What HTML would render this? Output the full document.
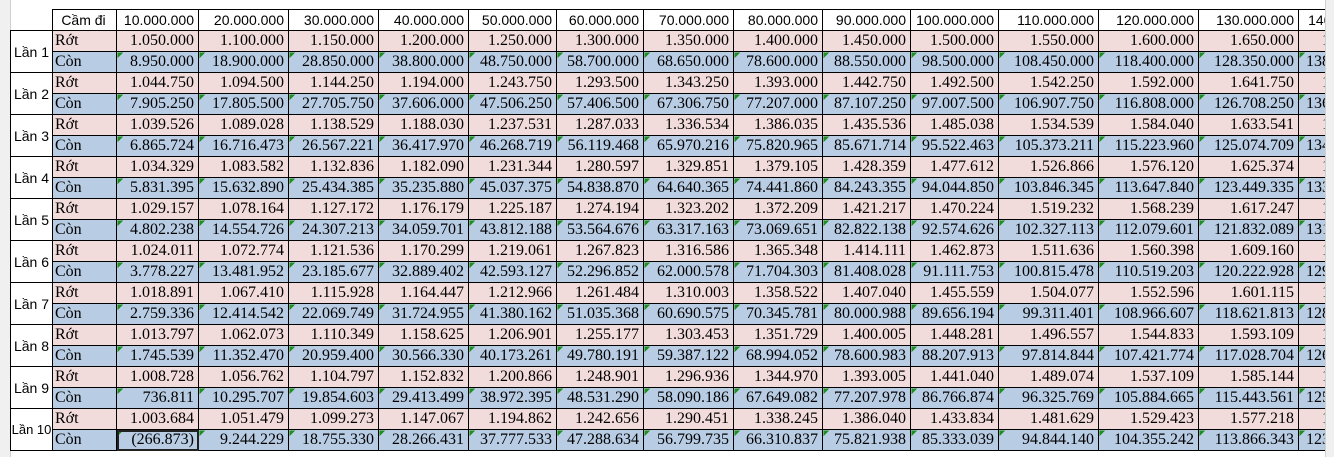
<!DOCTYPE html>
<html><head><meta charset="utf-8"><style>
body{margin:0;width:1334px;height:457px;background:#fff;overflow:hidden;position:relative;font-family:"Liberation Serif",serif}
#rh{position:absolute;left:0;top:0;width:10px;height:457px;background:#f0f0f0;border-right:1px solid #d0d0d0}
#sb{position:absolute;left:1325px;top:0;width:9px;height:457px;background:#f0f0f0;border-left:1px solid #d0d0d0}
#wrap{position:absolute;left:10px;top:9px;width:1315px;height:448px;overflow:hidden}
table{border-collapse:collapse;table-layout:fixed;width:1380px}
td{height:20px;padding:0 4px 0 2px;border:1px solid #000;font-size:16px;line-height:20px;text-align:right;white-space:nowrap;overflow:hidden}
tr.h td{font-family:"Liberation Sans",sans-serif;font-size:14px;background:#fff}
td.l{font-family:"Liberation Sans",sans-serif;font-size:14px;text-align:center;background:#fff;padding:0}
tr.r td{background:#f2dcdb}
tr.c td{background:#b8cce4 linear-gradient(135deg,#1f8f1f 4px,transparent 4px)}
tr.r td.k,tr.c td.k{text-align:left;background:#f2dcdb}
tr.c td.k{background:#b8cce4}
tr.c td.l,tr.r td.l{background:#fff}
</style></head><body>
<div id="rh"></div><div id="sb"></div>
<div id="wrap"><table>
<colgroup><col style="width:42px"><col style="width:64px"><col style="width:82px"><col style="width:90px"><col style="width:90px"><col style="width:90px"><col style="width:88px"><col style="width:87px"><col style="width:90px"><col style="width:89px"><col style="width:88px"><col style="width:88px"><col style="width:100px"><col style="width:100px"><col style="width:100px"><col style="width:92px"></colgroup>
<tr class="h"><td style="border-left:none;border-top:none"></td><td style="text-align:center">Cầm đi</td><td>10.000.000</td><td>20.000.000</td><td>30.000.000</td><td>40.000.000</td><td>50.000.000</td><td>60.000.000</td><td>70.000.000</td><td>80.000.000</td><td>90.000.000</td><td>100.000.000</td><td>110.000.000</td><td>120.000.000</td><td>130.000.000</td><td>140.000.000</td></tr>
<tr class="r"><td class="l" rowspan="2">Lần 1</td><td class="k">Rớt</td><td>1.050.000</td><td>1.100.000</td><td>1.150.000</td><td>1.200.000</td><td>1.250.000</td><td>1.300.000</td><td>1.350.000</td><td>1.400.000</td><td>1.450.000</td><td>1.500.000</td><td>1.550.000</td><td>1.600.000</td><td>1.650.000</td><td>1.700.000</td></tr>
<tr class="c"><td class="k">Còn</td><td>8.950.000</td><td>18.900.000</td><td>28.850.000</td><td>38.800.000</td><td>48.750.000</td><td>58.700.000</td><td>68.650.000</td><td>78.600.000</td><td>88.550.000</td><td>98.500.000</td><td>108.450.000</td><td>118.400.000</td><td>128.350.000</td><td>138.300.000</td></tr>
<tr class="r"><td class="l" rowspan="2">Lần 2</td><td class="k">Rớt</td><td>1.044.750</td><td>1.094.500</td><td>1.144.250</td><td>1.194.000</td><td>1.243.750</td><td>1.293.500</td><td>1.343.250</td><td>1.393.000</td><td>1.442.750</td><td>1.492.500</td><td>1.542.250</td><td>1.592.000</td><td>1.641.750</td><td>1.691.500</td></tr>
<tr class="c"><td class="k">Còn</td><td>7.905.250</td><td>17.805.500</td><td>27.705.750</td><td>37.606.000</td><td>47.506.250</td><td>57.406.500</td><td>67.306.750</td><td>77.207.000</td><td>87.107.250</td><td>97.007.500</td><td>106.907.750</td><td>116.808.000</td><td>126.708.250</td><td>136.608.500</td></tr>
<tr class="r"><td class="l" rowspan="2">Lần 3</td><td class="k">Rớt</td><td>1.039.526</td><td>1.089.028</td><td>1.138.529</td><td>1.188.030</td><td>1.237.531</td><td>1.287.033</td><td>1.336.534</td><td>1.386.035</td><td>1.435.536</td><td>1.485.038</td><td>1.534.539</td><td>1.584.040</td><td>1.633.541</td><td>1.683.043</td></tr>
<tr class="c"><td class="k">Còn</td><td>6.865.724</td><td>16.716.473</td><td>26.567.221</td><td>36.417.970</td><td>46.268.719</td><td>56.119.468</td><td>65.970.216</td><td>75.820.965</td><td>85.671.714</td><td>95.522.463</td><td>105.373.211</td><td>115.223.960</td><td>125.074.709</td><td>134.925.458</td></tr>
<tr class="r"><td class="l" rowspan="2">Lần 4</td><td class="k">Rớt</td><td>1.034.329</td><td>1.083.582</td><td>1.132.836</td><td>1.182.090</td><td>1.231.344</td><td>1.280.597</td><td>1.329.851</td><td>1.379.105</td><td>1.428.359</td><td>1.477.612</td><td>1.526.866</td><td>1.576.120</td><td>1.625.374</td><td>1.674.627</td></tr>
<tr class="c"><td class="k">Còn</td><td>5.831.395</td><td>15.632.890</td><td>25.434.385</td><td>35.235.880</td><td>45.037.375</td><td>54.838.870</td><td>64.640.365</td><td>74.441.860</td><td>84.243.355</td><td>94.044.850</td><td>103.846.345</td><td>113.647.840</td><td>123.449.335</td><td>133.250.830</td></tr>
<tr class="r"><td class="l" rowspan="2">Lần 5</td><td class="k">Rớt</td><td>1.029.157</td><td>1.078.164</td><td>1.127.172</td><td>1.176.179</td><td>1.225.187</td><td>1.274.194</td><td>1.323.202</td><td>1.372.209</td><td>1.421.217</td><td>1.470.224</td><td>1.519.232</td><td>1.568.239</td><td>1.617.247</td><td>1.666.254</td></tr>
<tr class="c"><td class="k">Còn</td><td>4.802.238</td><td>14.554.726</td><td>24.307.213</td><td>34.059.701</td><td>43.812.188</td><td>53.564.676</td><td>63.317.163</td><td>73.069.651</td><td>82.822.138</td><td>92.574.626</td><td>102.327.113</td><td>112.079.601</td><td>121.832.089</td><td>131.584.576</td></tr>
<tr class="r"><td class="l" rowspan="2">Lần 6</td><td class="k">Rớt</td><td>1.024.011</td><td>1.072.774</td><td>1.121.536</td><td>1.170.299</td><td>1.219.061</td><td>1.267.823</td><td>1.316.586</td><td>1.365.348</td><td>1.414.111</td><td>1.462.873</td><td>1.511.636</td><td>1.560.398</td><td>1.609.160</td><td>1.657.923</td></tr>
<tr class="c"><td class="k">Còn</td><td>3.778.227</td><td>13.481.952</td><td>23.185.677</td><td>32.889.402</td><td>42.593.127</td><td>52.296.852</td><td>62.000.578</td><td>71.704.303</td><td>81.408.028</td><td>91.111.753</td><td>100.815.478</td><td>110.519.203</td><td>120.222.928</td><td>129.926.653</td></tr>
<tr class="r"><td class="l" rowspan="2">Lần 7</td><td class="k">Rớt</td><td>1.018.891</td><td>1.067.410</td><td>1.115.928</td><td>1.164.447</td><td>1.212.966</td><td>1.261.484</td><td>1.310.003</td><td>1.358.522</td><td>1.407.040</td><td>1.455.559</td><td>1.504.077</td><td>1.552.596</td><td>1.601.115</td><td>1.649.633</td></tr>
<tr class="c"><td class="k">Còn</td><td>2.759.336</td><td>12.414.542</td><td>22.069.749</td><td>31.724.955</td><td>41.380.162</td><td>51.035.368</td><td>60.690.575</td><td>70.345.781</td><td>80.000.988</td><td>89.656.194</td><td>99.311.401</td><td>108.966.607</td><td>118.621.813</td><td>128.277.020</td></tr>
<tr class="r"><td class="l" rowspan="2">Lần 8</td><td class="k">Rớt</td><td>1.013.797</td><td>1.062.073</td><td>1.110.349</td><td>1.158.625</td><td>1.206.901</td><td>1.255.177</td><td>1.303.453</td><td>1.351.729</td><td>1.400.005</td><td>1.448.281</td><td>1.496.557</td><td>1.544.833</td><td>1.593.109</td><td>1.641.385</td></tr>
<tr class="c"><td class="k">Còn</td><td>1.745.539</td><td>11.352.470</td><td>20.959.400</td><td>30.566.330</td><td>40.173.261</td><td>49.780.191</td><td>59.387.122</td><td>68.994.052</td><td>78.600.983</td><td>88.207.913</td><td>97.814.844</td><td>107.421.774</td><td>117.028.704</td><td>126.635.635</td></tr>
<tr class="r"><td class="l" rowspan="2">Lần 9</td><td class="k">Rớt</td><td>1.008.728</td><td>1.056.762</td><td>1.104.797</td><td>1.152.832</td><td>1.200.866</td><td>1.248.901</td><td>1.296.936</td><td>1.344.970</td><td>1.393.005</td><td>1.441.040</td><td>1.489.074</td><td>1.537.109</td><td>1.585.144</td><td>1.633.178</td></tr>
<tr class="c"><td class="k">Còn</td><td>736.811</td><td>10.295.707</td><td>19.854.603</td><td>29.413.499</td><td>38.972.395</td><td>48.531.290</td><td>58.090.186</td><td>67.649.082</td><td>77.207.978</td><td>86.766.874</td><td>96.325.769</td><td>105.884.665</td><td>115.443.561</td><td>125.002.457</td></tr>
<tr class="r"><td class="l" rowspan="2" style="font-size:13px">Lần 10</td><td class="k">Rớt</td><td>1.003.684</td><td>1.051.479</td><td>1.099.273</td><td>1.147.067</td><td>1.194.862</td><td>1.242.656</td><td>1.290.451</td><td>1.338.245</td><td>1.386.040</td><td>1.433.834</td><td>1.481.629</td><td>1.529.423</td><td>1.577.218</td><td>1.625.012</td></tr>
<tr class="c"><td class="k">Còn</td><td style="outline:2px solid #222;outline-offset:-2px">(266.873)</td><td>9.244.229</td><td>18.755.330</td><td>28.266.431</td><td>37.777.533</td><td>47.288.634</td><td>56.799.735</td><td>66.310.837</td><td>75.821.938</td><td>85.333.039</td><td>94.844.140</td><td>104.355.242</td><td>113.866.343</td><td>123.377.444</td></tr>
</table></div>
</body></html>
